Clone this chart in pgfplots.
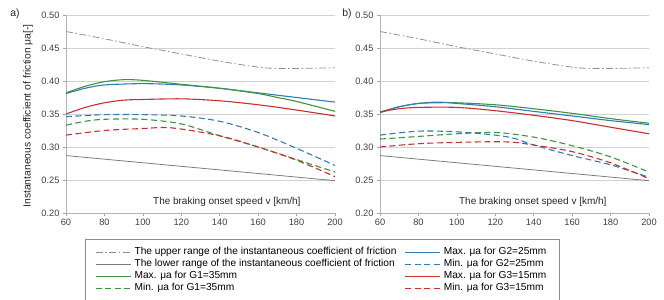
\documentclass[border=0pt]{standalone}
\usepackage{pgfplots}
\pgfplotsset{compat=1.18}
\usepackage{fontspec}
\setmainfont{Liberation Sans}
\definecolor{cgreen}{RGB}{58,150,62}
\definecolor{cblue}{RGB}{45,125,185}
\definecolor{cred}{RGB}{205,45,45}
\definecolor{cupper}{RGB}{145,145,145}
\definecolor{clower}{RGB}{125,125,125}
\pgfplotsset{
  panel/.style={
    scale only axis, width=269bp, height=198bp,
    xmin=60, xmax=200, ymin=0.2, ymax=0.5,
    xtick={60,80,100,120,140,160,180,200},
    ytick={0.2,0.25,0.3,0.35,0.4,0.45,0.5},
    axis lines*=left,
    ymajorgrids, grid style={black!18, line width=0.6bp},
    axis line style={black!30, line width=0.6bp},
    tick style={black!35, line width=0.5bp},
    tick align=outside, major tick length=3bp,
    /pgf/number format/assume math mode=true,
    ticklabel style={font=\fontsize{9.3}{10}\selectfont, text=black!75},
    yticklabel style={/pgf/number format/.cd, fixed, fixed zerofill, precision=2},
    label style={font=\fontsize{10}{12}\selectfont, text=black!85},
    every axis plot/.append style={smooth, line width=1.1bp},
  },
  upper/.style={cupper, line width=0.8bp, dash pattern=on 7bp off 2.5bp on 1.5bp off 2.5bp},
  lower/.style={clower, line width=0.8bp},
  mx/.style={#1},
  mn/.style={#1, dash pattern=on 6bp off 3.5bp},
}
\begin{document}
\begin{tikzpicture}
\useasboundingbox (-66bp,-87bp) rectangle (598bp,213bp);
\begin{axis}[panel,
  ylabel={Instantaneous coefficient of friction μa[-]},
  ylabel style={at={(axis description cs:-0.141,0.49)}, anchor=center, font=\fontsize{10.4}{12}\selectfont},
  xlabel={The braking onset speed v [km/h]},
  xlabel style={at={(axis description cs:0.598,0.056)}, anchor=center},
  legend columns=2,
  legend cell align=left,
  legend image code/.code={\draw[#1, line width=1.3bp] (0bp,0bp) -- (35bp,0bp);},
  legend style={at={(axis description cs:0.0706,-0.1335)}, anchor=north west,
    font=\fontsize{10.2}{12}\selectfont, draw=black!45, line width=0.6bp,
    inner xsep=10bp, inner ysep=6.5bp,
    nodes={text height=7.4bp, text depth=2bp, inner ysep=1.3bp, inner xsep=3bp},
    /tikz/every odd column/.style={column sep=0bp},
    /tikz/every even column/.style={column sep=5bp}},
]
\addplot[upper] coordinates {(60,0.475) (80,0.464) (100,0.452) (120,0.441) (140,0.430) (160,0.421) (170,0.419) (180,0.419) (200,0.420)};
\addlegendentry{The upper range of the instantaneous coefficient of friction}
\addplot[mx=cblue] coordinates {(60,0.381) (70,0.389) (80,0.394) (100,0.396) (120,0.394) (140,0.389) (160,0.382) (180,0.375) (200,0.368)};
\addlegendentry{Max. μa for G2=25mm}
\addplot[lower] coordinates {(60,0.287) (130,0.268) (200,0.249)};
\addlegendentry{The lower range of the instantaneous coefficient of friction}
\addplot[mn=cblue] coordinates {(60,0.346) (80,0.349) (100,0.349) (120,0.347) (140,0.339) (160,0.322) (180,0.298) (200,0.272)};
\addlegendentry{Min. μa for G2=25mm}
\addplot[mx=cgreen] coordinates {(60,0.382) (70,0.392) (80,0.399) (90,0.402) (100,0.401) (120,0.395) (140,0.389) (160,0.381) (170,0.375) (180,0.369) (200,0.354)};
\addlegendentry{Max. μa for G1=35mm}
\addplot[mx=cred] coordinates {(60,0.350) (70,0.360) (80,0.367) (90,0.371) (100,0.372) (120,0.373) (140,0.370) (160,0.364) (180,0.356) (200,0.347)};
\addlegendentry{Max. μa for G3=15mm}
\addplot[mn=cgreen] coordinates {(60,0.333) (70,0.339) (80,0.342) (100,0.342) (120,0.335) (140,0.317) (160,0.300) (180,0.281) (200,0.262)};
\addlegendentry{Min. μa for G1=35mm}
\addplot[mn=cred] coordinates {(60,0.318) (80,0.325) (100,0.328) (115,0.329) (140,0.317) (160,0.300) (180,0.280) (200,0.255)};
\addlegendentry{Min. μa for G3=15mm}
\end{axis}
\begin{axis}[panel, xshift=314bp,
  xlabel={The braking onset speed v [km/h]},
  xlabel style={at={(axis description cs:0.568,0.056)}, anchor=center},
]
\addplot[upper] coordinates {(60,0.475) (80,0.464) (100,0.452) (120,0.441) (140,0.430) (160,0.421) (170,0.419) (180,0.419) (200,0.420)};
\addplot[lower] coordinates {(60,0.287) (130,0.268) (200,0.249)};
\addplot[mx=cgreen] coordinates {(60,0.353) (70,0.361) (80,0.366) (90,0.367) (100,0.367) (120,0.364) (140,0.358) (160,0.351) (180,0.343) (200,0.336)};
\addplot[mx=cblue] coordinates {(60,0.352) (70,0.361) (80,0.366) (90,0.368) (100,0.366) (120,0.361) (140,0.354) (160,0.347) (180,0.340) (200,0.334)};
\addplot[mx=cred] coordinates {(60,0.353) (70,0.358) (80,0.360) (100,0.360) (120,0.355) (140,0.348) (160,0.340) (180,0.330) (200,0.320)};
\addplot[mn=cblue] coordinates {(60,0.318) (80,0.324) (100,0.323) (120,0.318) (130,0.313) (140,0.303) (160,0.287) (180,0.273) (200,0.254)};
\addplot[mn=cgreen] coordinates {(60,0.312) (80,0.316) (100,0.320) (120,0.322) (140,0.315) (160,0.302) (180,0.285) (200,0.262)};
\addplot[mn=cred] coordinates {(60,0.300) (80,0.305) (100,0.307) (120,0.308) (130,0.307) (140,0.303) (160,0.293) (180,0.276) (200,0.252)};
\end{axis}
\node[font=\fontsize{10.5}{12}\selectfont, text=black!85] at (-51bp,199bp) {a)};
\node[font=\fontsize{10.5}{12}\selectfont, text=black!85] at (281bp,199bp) {b)};
\end{tikzpicture}
\end{document}
